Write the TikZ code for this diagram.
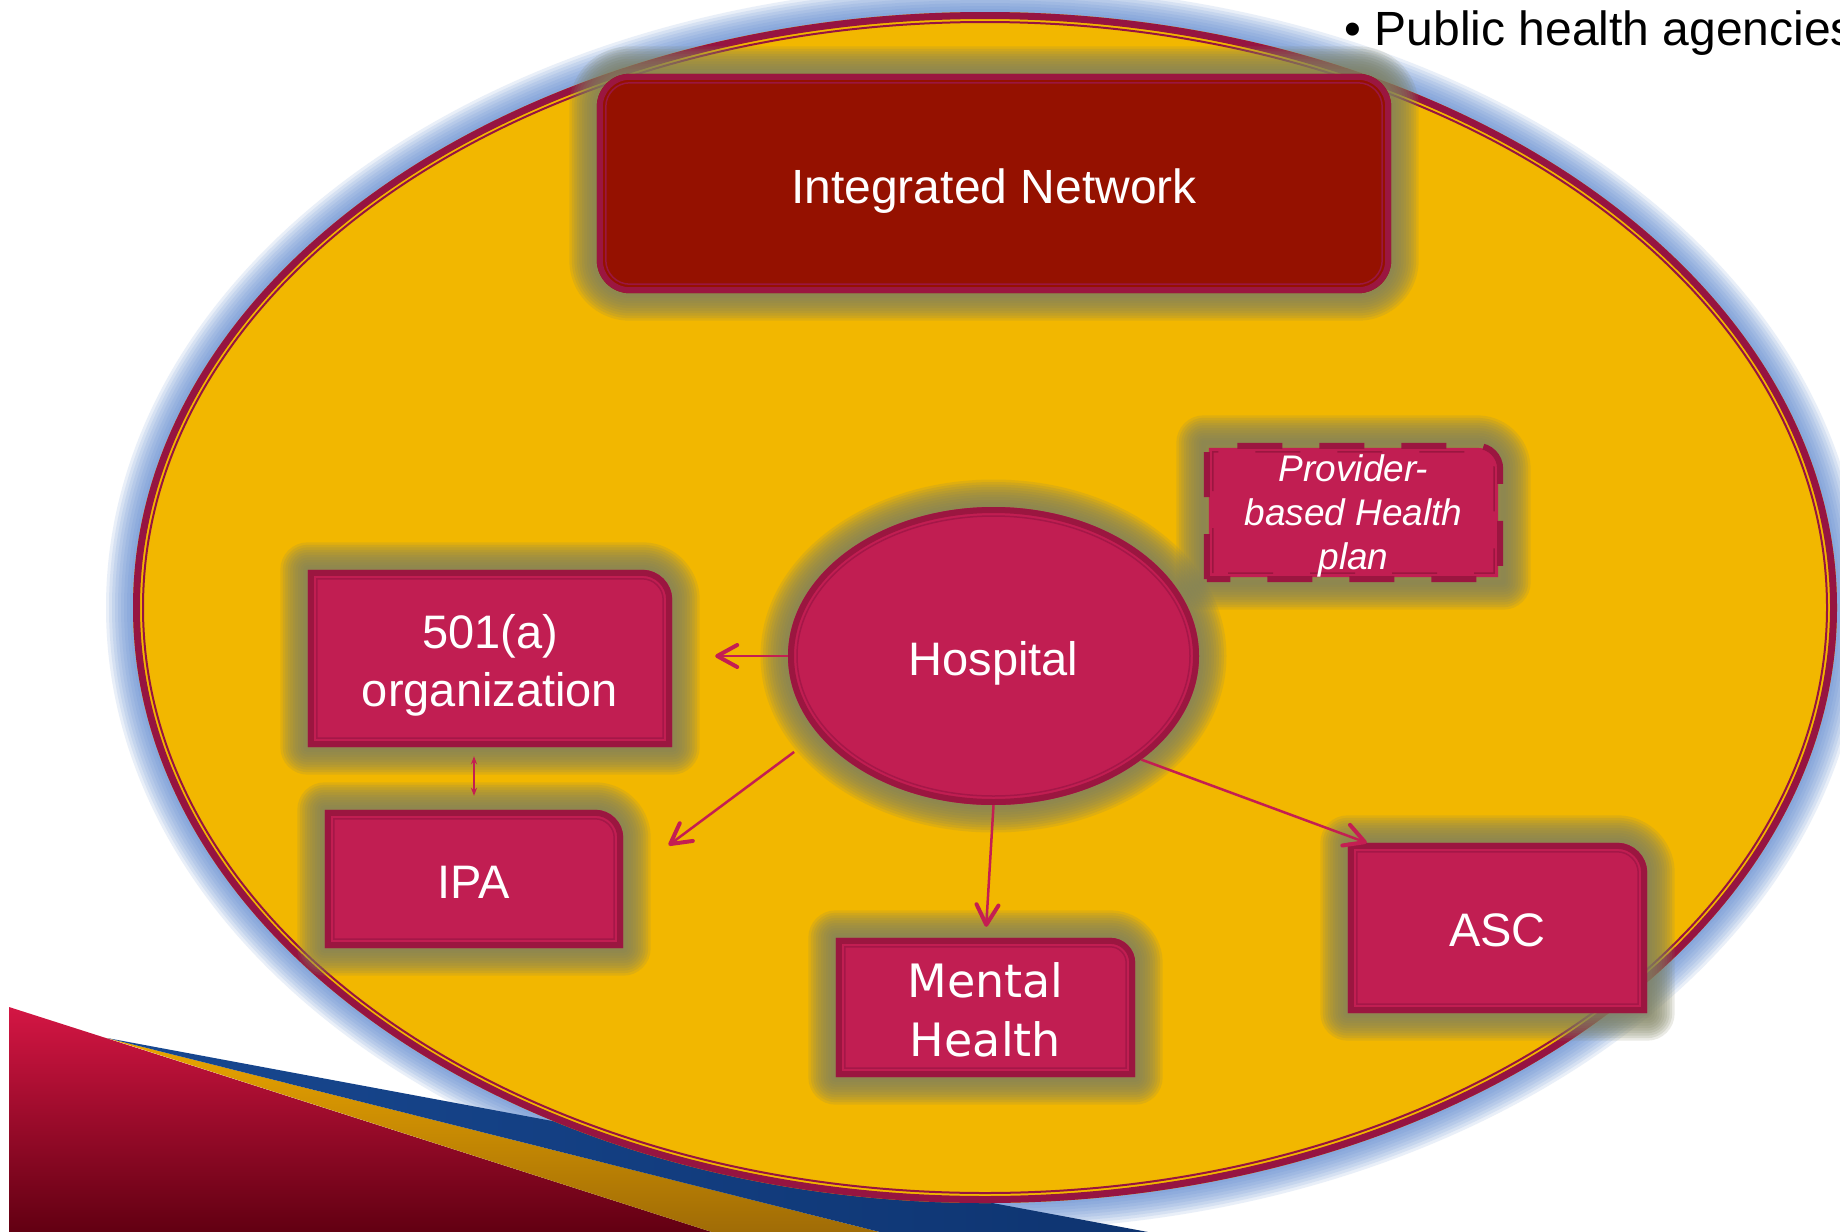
\documentclass[tikz,border=0pt]{standalone}
\usepackage{fontspec}
\setmainfont{Liberation Sans}
\newfontfamily\mhfont{DejaVu Sans}
\usetikzlibrary{calc,arrows.meta,shapes.geometric}

\pgfdeclarelayer{base}
\pgfdeclarelayer{glow}
\pgfdeclarelayer{boxes}
\pgfsetlayers{base,glow,boxes,main}

\definecolor{cGold}{RGB}{242,183,0}
\definecolor{cMaroon}{RGB}{150,20,65}
\definecolor{cBoxEdge}{RGB}{155,22,64}
\definecolor{cBoxFill}{RGB}{193,30,82}
\definecolor{cBoxLine}{RGB}{165,23,72}
\definecolor{cNetFill}{RGB}{149,17,0}
\definecolor{cGlow}{RGB}{128,130,96}
\definecolor{cHaze}{RGB}{100,142,210}
\definecolor{cArrow}{RGB}{196,30,82}
\definecolor{cRedTop}{RGB}{212,22,68}
\definecolor{cRedBot}{RGB}{98,0,18}
\definecolor{cAmberTop}{RGB}{236,166,0}
\definecolor{cAmberBot}{RGB}{160,108,6}
\definecolor{cNavyA}{RGB}{24,72,145}
\definecolor{cNavyB}{RGB}{14,52,112}

% outline of a box with a rounded top-right corner, inset by #3
\newcommand{\cornerpath}[3]{%
  ($(#1.south west)+(#3,-#3)$) -- ($(#1.north west)+(#3,#3)$) --
  ($(#1.north east)+(-#2,#3)$)
  .. controls ($(#1.north east)+({-#2+0.552*(#2-#3)},#3)$)
  and ($(#1.north east)+(-#3,{#2-0.552*(#2-#3)})$)
  .. ($(#1.north east)+(-#3,#2)$) --
  ($(#1.south east)+(-#3,-#3)$) -- cycle}

% soft halo round a corner box
\newcommand{\cornerglow}[2]{%
  \foreach \gw in {5,10,...,55}{\draw[glowstroke,line width=\gw pt] \cornerpath{#1}{#2}{0};}}

% filled corner box with a double border
\newcommand{\cornerbody}[2]{%
  \fill[cBoxFill] \cornerpath{#1}{#2}{0};
  \draw[cBoxEdge,line width=6pt] \cornerpath{#1}{#2}{3};
  \draw[cBoxLine,line width=1.5pt] \cornerpath{#1}{#2}{9};}

\tikzset{
  glowstroke/.style={draw=cGlow,draw opacity=0.16,line join=round},
  shapebox/.style={rectangle,inner sep=0pt,text=white,align=center,
    font=\fontsize{47}{58}\selectfont},
  oneline/.style={text height=38pt,text depth=0pt},
  conn/.style={draw=cArrow,line width=2.5pt,
    -{Straight Barb[length=20pt,width=22pt,line width'=4pt,round]}},
  link/.style={draw=cArrow,line width=1.5pt,
    {Stealth[length=8pt,width=6pt]}-{Stealth[length=8pt,width=6pt]}}
}

\begin{document}
\begin{tikzpicture}[x=1pt,y=-1pt,line join=round]
\useasboundingbox (0,0) rectangle (1840,1232);

% ---------- nodes ----------
\node[shapebox,oneline,minimum width=794pt,minimum height=219pt,
  font=\fontsize{48}{58}\selectfont,text height=39pt] (net) at (994,183.5) {Integrated Network};
\node[ellipse,inner sep=0pt,text=white,font=\fontsize{47}{58}\selectfont,oneline,
  minimum width=411pt,minimum height=298pt] (hosp) at (993.5,656) {Hospital};
\node[shapebox,minimum width=364pt,minimum height=177pt] (org) at (490,658.5)
  {\rule{0pt}{47pt}501(a)\\organization};
\node[shapebox,oneline,minimum width=298pt,minimum height=138pt] (ipa) at (474,879) {IPA};
\node[shapebox,minimum width=299pt,minimum height=139pt,
  font=\mhfont\fontsize{46}{59}\selectfont] (mh) at (985.5,1007.5)
  {\rule{0pt}{40pt}Mental\\Health};
\node[shapebox,oneline,minimum width=299pt,minimum height=170pt,text height=37pt] (asc) at (1497.5,928) {ASC};
\node[shapebox,minimum width=299pt,minimum height=139pt,
  font=\itshape\fontsize{37}{44}\selectfont] (prov) at (1353.5,512.5)
  {\rule{0pt}{34.5pt}Provider-\\based Health\\plan};
\node[anchor=base west,font=\fontsize{48}{58}\selectfont] (pub) at (1341,45)
  {\textbullet\ Public health agencies};

% ---------- backdrop: haze, swoosh and the network oval ----------
\begin{pgfonlayer}{base}
  \fill[white] (0,0) rectangle (1840,1232);
  \foreach \gw in {6,12,...,54}{
    \draw[draw=cHaze,draw opacity=0.14,line width=\gw pt] (985,607.5) ellipse [x radius=852,y radius=595.5];}
  \shade[top color=cRedTop,bottom color=cRedBot] (9,1007) -- (712,1232) -- (9,1232) -- cycle;
  \shade[top color=cAmberTop,bottom color=cAmberBot] (107,1038) -- (712,1232) -- (880,1232) -- cycle;
  \shade[left color=cNavyA,right color=cNavyB] (107,1038) -- (1148,1232) -- (880,1232) -- cycle;
  \fill[cGold] (985,607.5) ellipse [x radius=852,y radius=595.5];
  \draw[cMaroon,line width=7pt] (985,607.5) ellipse [x radius=848.5,y radius=592];
  \draw[cMaroon,line width=2pt] (985,607.5) ellipse [x radius=842,y radius=585.5];
\end{pgfonlayer}

% ---------- halos ----------
\begin{pgfonlayer}{glow}
  \foreach \gw in {5,10,...,55}{
    \draw[glowstroke,line width=\gw pt,rounded corners=33pt] (net.north west) rectangle (net.south east);
    \draw[glowstroke,line width=\gw pt] (hosp.center) ellipse [x radius=205.5,y radius=149];}
  \cornerglow{org}{30}
  \cornerglow{ipa}{28}
  \cornerglow{mh}{25}
  \cornerglow{asc}{30}
  \cornerglow{prov}{26}
\end{pgfonlayer}

% ---------- box bodies ----------
\begin{pgfonlayer}{boxes}
  \fill[cNetFill,rounded corners=33pt] (net.north west) rectangle (net.south east);
  \draw[cBoxEdge,line width=6pt,rounded corners=30pt]
    ($(net.north west)+(3,3)$) rectangle ($(net.south east)+(-3,-3)$);
  \draw[cBoxEdge,line width=1.5pt,rounded corners=24pt]
    ($(net.north west)+(9,9)$) rectangle ($(net.south east)+(-9,-9)$);

  \fill[cBoxFill] (hosp.center) ellipse [x radius=205.5,y radius=149];
  \draw[cBoxEdge,line width=6pt] (hosp.center) ellipse [x radius=202.5,y radius=146];
  \draw[cBoxLine,line width=1.5pt] (hosp.center) ellipse [x radius=196.5,y radius=140];

  \cornerbody{org}{30}
  \cornerbody{ipa}{28}
  \cornerbody{mh}{25}
  \cornerbody{asc}{30}

  \fill[cBoxFill] \cornerpath{prov}{26}{5};
  \draw[cBoxEdge,line width=6pt,dash pattern=on 45pt off 37pt] \cornerpath{prov}{26}{3};
  \draw[cBoxEdge,line width=1.5pt,dash pattern=on 45pt off 37pt] \cornerpath{prov}{26}{9};
\end{pgfonlayer}

% ---------- connectors ----------
\draw[conn,shorten >=43pt] (hosp.west) -- (hosp.west -| org.east);
\draw[conn,shorten <=30pt,shorten >=56.6pt] (hosp.204) -- (ipa.east);
\draw[conn,shorten >=11pt] (hosp.south) -- (mh.north);
\draw[conn] (hosp.325) -- ([xshift=19pt]asc.north west);
\draw[link,shorten <=9pt,shorten >=14pt] (ipa.north |- org.south) -- (ipa.north);
\end{tikzpicture}
\end{document}
